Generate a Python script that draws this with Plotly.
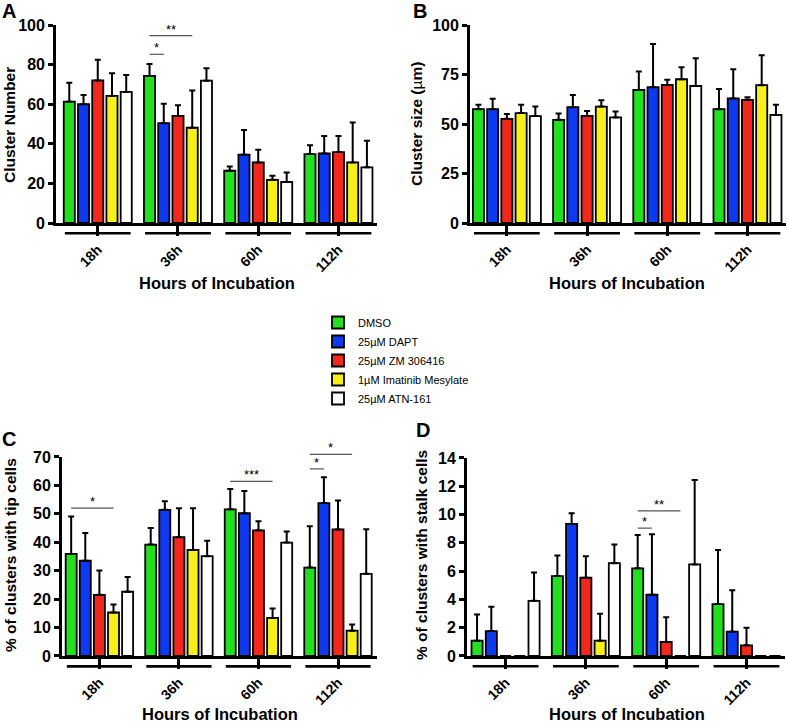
import plotly.graph_objects as go

# ---------------- data ----------------
groups = ["18h", "36h", "60h", "112h"]
treatments = ["DMSO", "25µM DAPT", "25µM ZM 306416", "1µM Imatinib Mesylate", "25µM ATN-161"]
colors = ["#22e01e", "#0d3af0", "#f2281c", "#f7ef1c", "#ffffff"]

# Panel A: Cluster Number (mean, upper error)
a_dmso = [61.3, 74.3, 26.4, 34.8];  a_dmso_err = [9.6, 6.0, 2.2, 4.5]
a_dapt = [60.0, 50.4, 34.5, 35.1];  a_dapt_err = [4.7, 9.8, 12.5, 8.9]
a_zm = [72.0, 54.1, 30.6, 35.8];    a_zm_err = [10.4, 5.4, 6.4, 8.2]
a_imat = [64.2, 48.1, 21.8, 30.6];  a_imat_err = [11.4, 18.8, 2.1, 20.2]
a_atn = [66.2, 71.9, 20.7, 28.1];   a_atn_err = [8.6, 6.3, 4.8, 13.4]

# Panel B: Cluster size (µm)
b_dmso = [57.5, 52.1, 67.2, 57.5];  b_dmso_err = [2.2, 3.2, 9.3, 10.2]
b_dapt = [57.5, 58.5, 68.6, 62.9];  b_dapt_err = [5.2, 6.2, 21.8, 14.7]
b_zm = [52.6, 54.1, 69.7, 62.2];    b_zm_err = [2.5, 2.5, 2.6, 1.3]
b_imat = [55.5, 58.8, 72.6, 69.6];  b_imat_err = [4.2, 3.2, 6.1, 15.1]
b_atn = [54.0, 53.3, 69.2, 54.6];   b_atn_err = [4.8, 3.0, 14.0, 5.1]

# Panel C: % of clusters with tip cells
c_dmso = [35.9, 39.2, 51.6, 31.1];  c_dmso_err = [13.2, 5.8, 7.1, 14.5]
c_dapt = [33.5, 51.4, 50.2, 53.8];  c_dapt_err = [9.8, 3.0, 7.8, 9.1]
c_zm = [21.5, 41.8, 44.2, 44.5];    c_zm_err = [8.6, 10.2, 3.2, 10.2]
c_imat = [15.3, 37.3, 13.4, 8.9];   c_imat_err = [2.8, 14.7, 3.3, 2.2]
c_atn = [22.6, 35.1, 39.9, 28.9];   c_atn_err = [5.2, 5.4, 3.9, 15.7]

# Panel D: % of clusters with stalk cells
d_dmso = [1.08, 5.65, 6.2, 3.67];   d_dmso_err = [1.86, 1.45, 2.36, 3.83]
d_dapt = [1.76, 9.34, 4.33, 1.72];  d_dapt_err = [1.72, 0.76, 4.27, 2.92]
d_zm = [0, 5.53, 0.99, 0.75];       d_zm_err = [0, 1.53, 1.74, 1.25]
d_imat = [0, 1.08, 0, 0];           d_imat_err = [0, 1.91, 0, 0]
d_atn = [3.9, 6.56, 6.47, 0];       d_atn_err = [2.0, 1.32, 5.98, 0]

# y axis settings per panel
a_ymax, a_dtick = 100, 20
b_ymax, b_dtick = 100, 25
c_ymax, c_dtick = 70, 10
d_ymax, d_dtick = 14, 2

# significance bars: panel, group index, from bar, to bar, level, label
sig_panel = ["A", "A", "C", "C", "C", "C", "D", "D"]
sig_group = [1, 1, 0, 2, 3, 3, 2, 2]
sig_from = [0, 0, 0, 0, 0, 0, 0, 0]
sig_to = [1, 3, 3, 3, 1, 3, 1, 3]
sig_level = [85.2, 94.6, 52.0, 61.4, 65.8, 70.9, 9.04, 10.26]
sig_label = ["*", "**", "*", "***", "*", "*", "*", "**"]

panels = {
    "A": dict(series=[(a_dmso, a_dmso_err), (a_dapt, a_dapt_err), (a_zm, a_zm_err), (a_imat, a_imat_err), (a_atn, a_atn_err)],
              ymax=a_ymax, dtick=a_dtick, ax="", xdom=[0.0712, 0.479], ydom=[0.6924, 0.9655], xr=[-0.52, 3.48],
              ytitle="<b>Cluster Number</b>", ytpos=(9, 125), xtpos=(217, 283), letter=("A", 0, 11)),
    "B": dict(series=[(b_dmso, b_dmso_err), (b_dapt, b_dapt_err), (b_zm, b_zm_err), (b_imat, b_imat_err), (b_atn, b_atn_err)],
              ymax=b_ymax, dtick=b_dtick, ax="2", xdom=[0.5972, 0.9987], ydom=[0.6924, 0.9655], xr=[-0.46, 3.48],
              ytitle="<b>Cluster size (</b>µ<b>m)</b>", ytpos=(417, 124), xtpos=(627, 283), letter=("B", 411, 11)),
    "C": dict(series=[(c_dmso, c_dmso_err), (c_dapt, c_dapt_err), (c_zm, c_zm_err), (c_imat, c_imat_err), (c_atn, c_atn_err)],
              ymax=c_ymax, dtick=c_dtick, ax="3", xdom=[0.0788, 0.479], ydom=[0.0952, 0.3697], xr=[-0.47, 3.49],
              ytitle="<b>% of clusters with tip cells</b>", ytpos=(10, 555), xtpos=(220, 714), letter=("C", 0, 439)),
    "D": dict(series=[(d_dmso, d_dmso_err), (d_dapt, d_dapt_err), (d_zm, d_zm_err), (d_imat, d_imat_err), (d_atn, d_atn_err)],
              ymax=d_ymax, dtick=d_dtick, ax="4", xdom=[0.5934, 0.9975], ydom=[0.0952, 0.3683], xr=[-0.48, 3.48],
              ytitle="<b>% of clusters with stalk cells</b>", ytpos=(421, 555), xtpos=(627, 714), letter=("D", 414, 430)),
}

W, H = 787, 725
FONT = "Liberation Sans, Arial, Helvetica, sans-serif"
BARGAP = 0.113
BARGROUPGAP = 0.22
NB = len(treatments)

fig = go.Figure()
shapes = []
annotations = []


def bar_offset(i):
    slot = (1 - BARGAP) / NB
    return -(1 - BARGAP) / 2 + slot * (i + 0.5)


for key, p in panels.items():
    ax = p["ax"]
    for i, (vals, errs) in enumerate(p["series"]):
        fig.add_trace(go.Bar(
            x=groups, y=vals, name=treatments[i],
            legendgroup=treatments[i], showlegend=(key == "A"),
            marker=dict(color=colors[i], line=dict(color="black", width=1.8)),
            error_y=dict(type="data", symmetric=False, array=errs, arrayminus=[0] * len(errs),
                         color="black", thickness=2, width=3),
            xaxis="x" + ax, yaxis="y" + ax,
        ))
    xa = "xaxis" + ax
    ya = "yaxis" + ax
    fig.update_layout(**{
        xa: dict(domain=p["xdom"], anchor="y" + ax, range=p["xr"], type="category", automargin=False,
                 showline=True, linecolor="black", linewidth=2.8, ticks="outside", ticklen=10,
                 tickwidth=2.6, tickcolor="black", tickangle=-45, showgrid=False, zeroline=False,
                 tickfont=dict(family=FONT, size=14, color="black", weight="bold"),
                 categoryorder="array", categoryarray=groups),
        ya: dict(domain=p["ydom"], anchor="x" + ax, range=[0, p["ymax"]], dtick=p["dtick"], automargin=False,
                 showline=True, linecolor="black", linewidth=2.8, ticks="outside", ticklen=5,
                 tickwidth=2.6, tickcolor="black", showgrid=False, zeroline=False,
                 tickfont=dict(family=FONT, size=16, color="black", weight="bold")),
    })
    # group brackets below the axis
    for gi in range(len(groups)):
        shapes.append(dict(type="line", xref="x" + ax, yref="y" + ax + " domain",
                           x0=gi - 0.41, x1=gi + 0.41, y0=-0.052, y1=-0.052,
                           line=dict(color="black", width=2.6)))
    # titles
    annotations.append(dict(text=p["ytitle"], x=p["ytpos"][0] / W, y=1 - p["ytpos"][1] / H,
                            xref="paper", yref="paper", textangle=-90, showarrow=False,
                            xanchor="center", yanchor="middle",
                            font=dict(family=FONT, size=15.5, color="black")))
    annotations.append(dict(text="<b>Hours of Incubation</b>", x=p["xtpos"][0] / W, y=1 - p["xtpos"][1] / H,
                            xref="paper", yref="paper", showarrow=False,
                            xanchor="center", yanchor="middle",
                            font=dict(family=FONT, size=16.5, color="black")))
    letter, lx, ly = p["letter"]
    annotations.append(dict(text="<b>" + letter + "</b>", x=lx / W, y=1 - ly / H,
                            xref="paper", yref="paper", showarrow=False,
                            xanchor="left", yanchor="middle",
                            font=dict(family=FONT, size=20, color="black")))

# significance bars
for k in range(len(sig_panel)):
    p = panels[sig_panel[k]]
    ax = p["ax"]
    g = sig_group[k]
    x0 = g + bar_offset(sig_from[k])
    x1 = g + bar_offset(sig_to[k])
    yv = sig_level[k] / p["ymax"]
    shapes.append(dict(type="line", xref="x" + ax, yref="y" + ax + " domain",
                       x0=x0, x1=x1, y0=yv, y1=yv, line=dict(color="#555555", width=1.2)))
    annotations.append(dict(text=sig_label[k], x=(x0 + x1) / 2, y=yv, xref="x" + ax,
                            yref="y" + ax + " domain", showarrow=False, xanchor="center",
                            yanchor="bottom", yshift=-3,
                            font=dict(family=FONT, size=13, color="black")))

fig.update_layout(
    template="none",
    width=W, height=H,
    margin=dict(l=0, r=0, t=0, b=0, pad=0, autoexpand=False),
    paper_bgcolor="white", plot_bgcolor="white",
    barmode="group", bargap=BARGAP, bargroupgap=BARGROUPGAP,
    shapes=shapes, annotations=annotations,
    showlegend=True,
    legend=dict(x=318 / W, y=1 - 308 / H, xanchor="left", yanchor="top",
                font=dict(family=FONT, size=11, color="black"),
                bgcolor="rgba(0,0,0,0)", traceorder="normal", tracegroupgap=0),
)

fig.write_html("out.html", config={"displayModeBar": False},
               post_script="document.body.style.margin='0';document.body.style.overflow='hidden';")
